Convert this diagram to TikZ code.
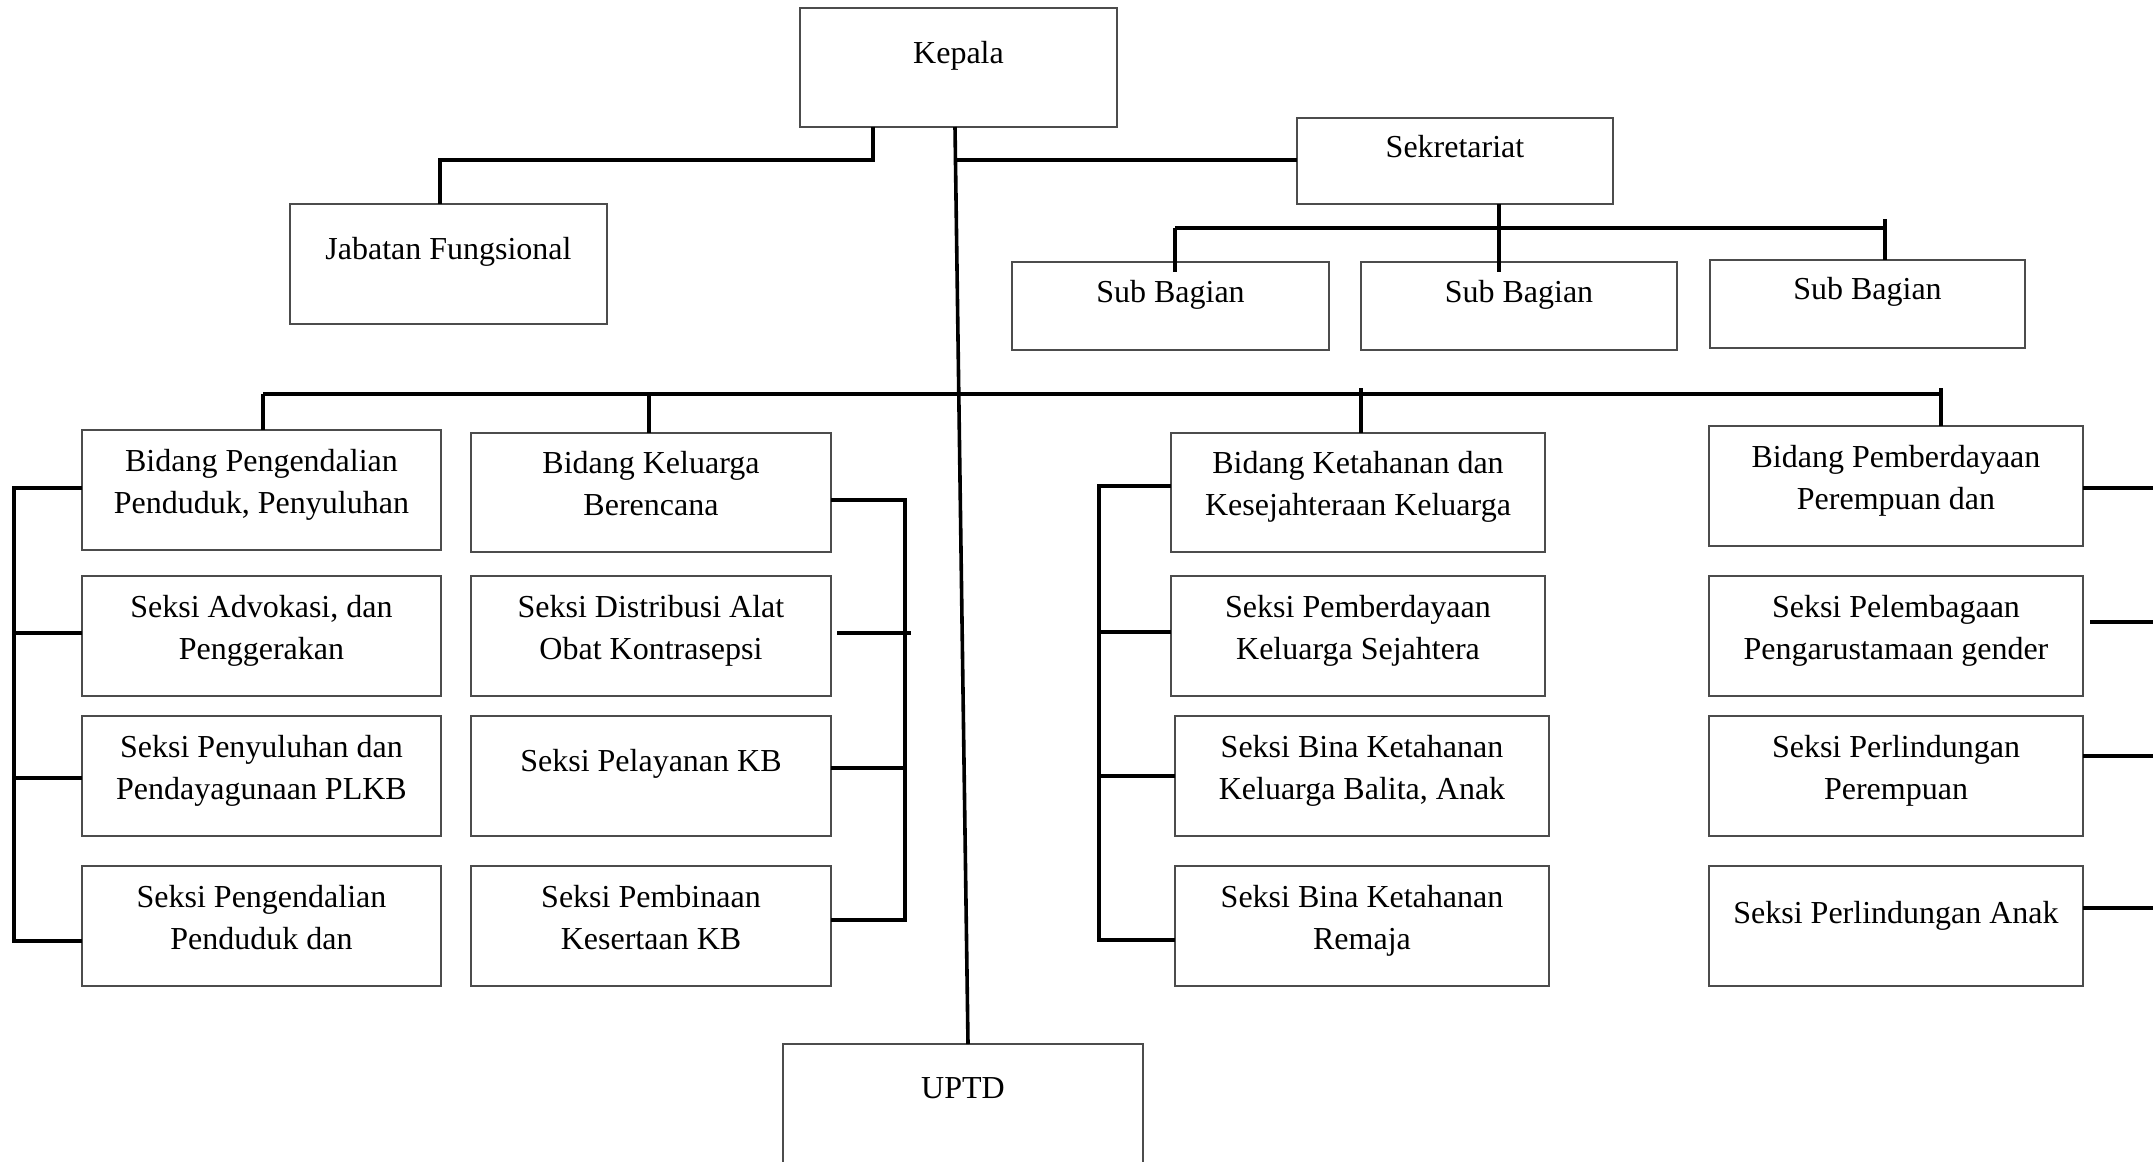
\documentclass[tikz,border=0pt]{standalone}
\usepackage{fontspec}
\setmainfont{Liberation Serif}
\begin{document}
\begin{tikzpicture}[x=0.5pt,y=-0.5pt,
  boxst/.style={draw=black!70, line width=0.6pt, inner sep=0pt, outer sep=0pt, anchor=north west},
  lbl/.style={inner sep=0pt, outer sep=0pt, anchor=base, align=flush center, font=\fontsize{16}{21}\selectfont},
  conn/.style={line width=1.7pt},
  trunk/.style={line width=1.8pt}]
\useasboundingbox (0,0) rectangle (2153,1162);
\clip (0,0) rectangle (2153,1162);
\newcommand\orgunit[5]{\node[boxst, minimum width={(#4-#2)*0.5pt}, minimum height={(#5-#3)*0.5pt}] (#1) at (#2,#3) {};}
\newcommand\orglabel[4]{\node[lbl, text width={#2*0.5pt}] (#1-t) at (#3) {#4};}
% boxes
\orgunit{kep}{800}{8}{1117}{127}
\orgunit{jab}{290}{204}{607}{324}
\orgunit{sek}{1297}{118}{1613}{204}
\orgunit{sub1}{1012}{262}{1329}{350}
\orgunit{sub2}{1361}{262}{1677}{350}
\orgunit{sub3}{1710}{260}{2025}{348}
\orgunit{b1}{82}{430}{441}{550}
\orgunit{s11}{82}{576}{441}{696}
\orgunit{s12}{82}{716}{441}{836}
\orgunit{s13}{82}{866}{441}{986}
\orgunit{b2}{471}{433}{831}{552}
\orgunit{s21}{471}{576}{831}{696}
\orgunit{s22}{471}{716}{831}{836}
\orgunit{s23}{471}{866}{831}{986}
\orgunit{b3}{1171}{433}{1545}{552}
\orgunit{s31}{1171}{576}{1545}{696}
\orgunit{s32}{1175}{716}{1549}{836}
\orgunit{s33}{1175}{866}{1549}{986}
\orgunit{b4}{1709}{426}{2083}{546}
\orgunit{s41}{1709}{576}{2083}{696}
\orgunit{s42}{1709}{716}{2083}{836}
\orgunit{s43}{1709}{866}{2083}{986}
\orgunit{uptd}{783}{1044}{1143}{1200}
% texts
\orglabel{kep}{317}{958.5,63}{Kepala}
\orglabel{jab}{317}{448.5,259}{Jabatan Fungsional}
\orglabel{sek}{316}{1455,157}{Sekretariat}
\orglabel{sub1}{317}{1170.5,302}{Sub Bagian}
\orglabel{sub2}{316}{1519,302}{Sub Bagian}
\orglabel{sub3}{315}{1867.5,299}{Sub Bagian}
\orglabel{b1}{359}{261.5,471}{Bidang Pengendalian\\Penduduk, Penyuluhan}
\orglabel{s11}{359}{261.5,617}{Seksi Advokasi, dan\\Penggerakan}
\orglabel{s12}{359}{261.5,757}{Seksi Penyuluhan dan\\Pendayagunaan PLKB}
\orglabel{s13}{359}{261.5,907}{Seksi Pengendalian\\Penduduk dan}
\orglabel{b2}{360}{651,473}{Bidang Keluarga\\Berencana}
\orglabel{s21}{360}{651,617}{Seksi Distribusi Alat\\Obat Kontrasepsi}
\orglabel{s22}{360}{651,771}{Seksi Pelayanan KB}
\orglabel{s23}{360}{651,907}{Seksi Pembinaan\\Kesertaan KB}
\orglabel{b3}{374}{1358,473}{Bidang Ketahanan dan\\Kesejahteraan Keluarga}
\orglabel{s31}{374}{1358,617}{Seksi Pemberdayaan\\Keluarga Sejahtera}
\orglabel{s32}{374}{1362,757}{Seksi Bina Ketahanan\\Keluarga Balita, Anak}
\orglabel{s33}{374}{1362,907}{Seksi Bina Ketahanan\\Remaja}
\orglabel{b4}{374}{1896,467}{Bidang Pemberdayaan\\Perempuan dan}
\orglabel{s41}{374}{1896,617}{Seksi Pelembagaan\\Pengarustamaan gender}
\orglabel{s42}{374}{1896,757}{Seksi Perlindungan\\Perempuan}
\orglabel{s43}{374}{1896,923}{Seksi Perlindungan Anak}
\orglabel{uptd}{360}{963,1098}{UPTD}
% Kepala - Jabatan Fungsional
\coordinate (jA) at (873,160);
\coordinate (jB) at (440,160);
\draw[conn] (kep.south -| jA) -- (jA) -- (jB) -- (jab.north -| jB);
% trunk Kepala - UPTD
\coordinate (trA) at (955,0);
\coordinate (trB) at (968,0);
\draw[trunk] (kep.south -| trA) -- (uptd.north -| trB);
% Sekretariat
\coordinate (jS) at (955.6,160);
\draw[conn] (jS) -- (sek.west |- jS);
\coordinate (sbL) at (1175,228);
\coordinate (sbR) at (1885,228);
\coordinate (sbM) at (1499,228);
\coordinate (sbL2) at (1175,272);
\coordinate (sbM2) at (1499,272);
\coordinate (sbR0) at (1885,219);
\draw[conn] (sbL) -- (sbR);
\draw[conn] (sek.south -| sbM) -- (sbM2);
\draw[conn] (sbL) -- (sbL2);
\draw[conn] (sbR0) -- (sub3.north -| sbR0);
% Bidang bar
\coordinate (bL) at (263,394);
\coordinate (bR) at (1941,394);
\coordinate (bK) at (649,394);
\coordinate (bT) at (1361,388);
\coordinate (bP) at (1941,388);
\draw[conn] (bL) -- (bR);
\draw[conn] (bL) -- (b1.north -| bL);
\draw[conn] (bK) -- (b2.north -| bK);
\draw[conn] (bT) -- (b3.north -| bT);
\draw[conn] (bP) -- (b4.north -| bP);
% bracket 1
\coordinate (p1a) at (14,488);
\coordinate (p1b) at (14,633);
\coordinate (p1c) at (14,778);
\coordinate (p1d) at (14,941);
\draw[conn] (b1.west |- p1a) -- (p1a) -- (p1d) -- (s13.west |- p1d);
\draw[conn] (p1b) -- (s11.west |- p1b);
\draw[conn] (p1c) -- (s12.west |- p1c);
% bracket 2
\coordinate (p2a) at (905,500);
\coordinate (p2b) at (911,633);
\coordinate (p2b0) at (837,633);
\coordinate (p2c) at (905,768);
\coordinate (p2d) at (905,920);
\draw[conn] (b2.east |- p2a) -- (p2a) -- (p2d) -- (s23.east |- p2d);
\draw[conn] (p2b0) -- (p2b);
\draw[conn] (s22.east |- p2c) -- (p2c);
% bracket 3
\coordinate (p3a) at (1099,486);
\coordinate (p3b) at (1099,632);
\coordinate (p3c) at (1099,776);
\coordinate (p3d) at (1099,940);
\draw[conn] (b3.west |- p3a) -- (p3a) -- (p3d) -- (s33.west |- p3d);
\draw[conn] (p3b) -- (s31.west |- p3b);
\draw[conn] (p3c) -- (s32.west |- p3c);
% right stubs
\coordinate (p4a) at (2160,488);
\coordinate (p4b) at (2160,622);
\coordinate (p4b0) at (2090,622);
\coordinate (p4c) at (2160,756);
\coordinate (p4d) at (2160,908);
\draw[conn] (b4.east |- p4a) -- (p4a);
\draw[conn] (p4b0) -- (p4b);
\draw[conn] (s42.east |- p4c) -- (p4c);
\draw[conn] (s43.east |- p4d) -- (p4d);
\end{tikzpicture}
\end{document}
